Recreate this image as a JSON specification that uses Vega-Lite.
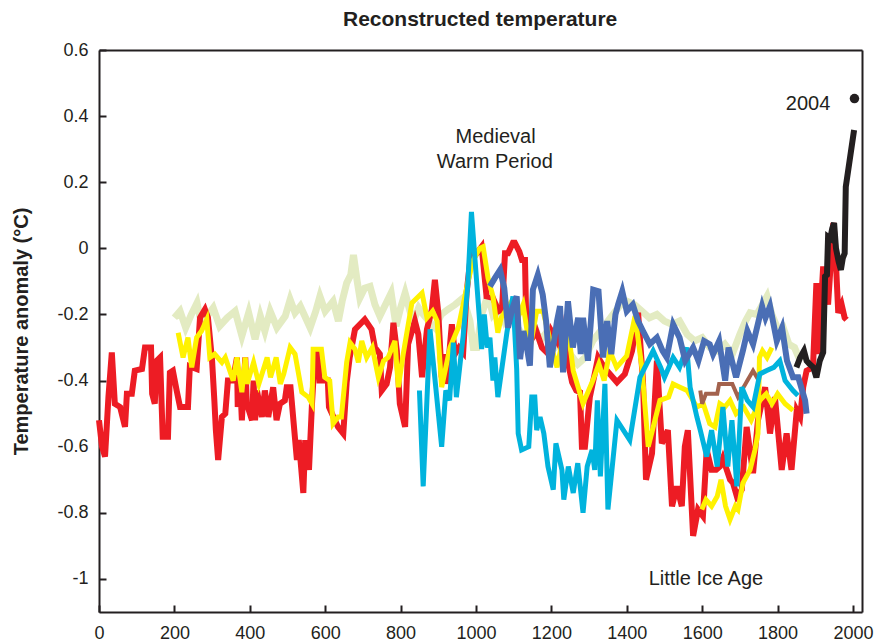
{
  "$schema": "https://vega.github.io/schema/vega-lite/v6.json",
  "width": 763,
  "height": 562,
  "autosize": "none",
  "padding": {"left": 99, "top": 50, "right": 13, "bottom": 31},
  "resolve": {"axis": {"y": "independent"}},
  "config": {
    "font": "Liberation Sans",
    "axis": {"domainColor": "#231f20", "domainWidth": 2, "ticks": false, "labelColor": "#231f20", "labelFontSize": 18}
  },
  "datasets": {
    "series": [
      {"s":"green","x":200,"y":-0.21},{"s":"green","x":215,"y":-0.19},{"s":"green","x":230,"y":-0.24},{"s":"green","x":245,"y":-0.2},{"s":"green","x":260,"y":-0.165},{"s":"green","x":272,"y":-0.23},{"s":"green","x":290,"y":-0.2},{"s":"green","x":303,"y":-0.18},{"s":"green","x":320,"y":-0.235},{"s":"green","x":340,"y":-0.21},{"s":"green","x":361,"y":-0.19},{"s":"green","x":379,"y":-0.265},{"s":"green","x":397,"y":-0.195},{"s":"green","x":414,"y":-0.275},{"s":"green","x":428,"y":-0.205},{"s":"green","x":440,"y":-0.25},{"s":"green","x":454,"y":-0.19},{"s":"green","x":472,"y":-0.24},{"s":"green","x":494,"y":-0.205},{"s":"green","x":507,"y":-0.155},{"s":"green","x":520,"y":-0.195},{"s":"green","x":534,"y":-0.175},{"s":"green","x":548,"y":-0.21},{"s":"green","x":560,"y":-0.24},{"s":"green","x":575,"y":-0.19},{"s":"green","x":586,"y":-0.145},{"s":"green","x":600,"y":-0.19},{"s":"green","x":621,"y":-0.16},{"s":"green","x":635,"y":-0.22},{"s":"green","x":645,"y":-0.16},{"s":"green","x":657,"y":-0.105},{"s":"green","x":668,"y":-0.08},{"s":"green","x":675,"y":-0.02},{"s":"green","x":685,"y":-0.1},{"s":"green","x":692,"y":-0.15},{"s":"green","x":705,"y":-0.12},{"s":"green","x":719,"y":-0.115},{"s":"green","x":732,"y":-0.17},{"s":"green","x":745,"y":-0.205},{"s":"green","x":760,"y":-0.17},{"s":"green","x":775,"y":-0.135},{"s":"green","x":788,"y":-0.235},{"s":"green","x":800,"y":-0.18},{"s":"green","x":812,"y":-0.135},{"s":"green","x":825,"y":-0.19},{"s":"green","x":834,"y":-0.22},{"s":"green","x":848,"y":-0.18},{"s":"green","x":860,"y":-0.2},{"s":"green","x":875,"y":-0.22},{"s":"green","x":891,"y":-0.24},{"s":"green","x":908,"y":-0.2},{"s":"green","x":925,"y":-0.185},{"s":"green","x":945,"y":-0.17},{"s":"green","x":966,"y":-0.15},{"s":"green","x":984,"y":-0.22},{"s":"green","x":993,"y":-0.3},{"s":"green","x":1002,"y":-0.3},{"s":"green","x":1015,"y":-0.2},{"s":"green","x":1032,"y":-0.14},{"s":"green","x":1045,"y":-0.2},{"s":"green","x":1060,"y":-0.18},{"s":"green","x":1075,"y":-0.22},{"s":"green","x":1090,"y":-0.19},{"s":"green","x":1110,"y":-0.24},{"s":"green","x":1130,"y":-0.27},{"s":"green","x":1150,"y":-0.22},{"s":"green","x":1170,"y":-0.28},{"s":"green","x":1190,"y":-0.25},{"s":"green","x":1210,"y":-0.3},{"s":"green","x":1230,"y":-0.28},{"s":"green","x":1250,"y":-0.32},{"s":"green","x":1270,"y":-0.35},{"s":"green","x":1290,"y":-0.33},{"s":"green","x":1310,"y":-0.28},{"s":"green","x":1330,"y":-0.25},{"s":"green","x":1350,"y":-0.22},{"s":"green","x":1370,"y":-0.19},{"s":"green","x":1385,"y":-0.17},{"s":"green","x":1400,"y":-0.16},{"s":"green","x":1420,"y":-0.17},{"s":"green","x":1440,"y":-0.19},{"s":"green","x":1460,"y":-0.21},{"s":"green","x":1480,"y":-0.2},{"s":"green","x":1500,"y":-0.22},{"s":"green","x":1520,"y":-0.23},{"s":"green","x":1540,"y":-0.22},{"s":"green","x":1560,"y":-0.26},{"s":"green","x":1580,"y":-0.28},{"s":"green","x":1600,"y":-0.27},{"s":"green","x":1620,"y":-0.3},{"s":"green","x":1640,"y":-0.31},{"s":"green","x":1660,"y":-0.29},{"s":"green","x":1680,"y":-0.32},{"s":"green","x":1700,"y":-0.26},{"s":"green","x":1715,"y":-0.22},{"s":"green","x":1727,"y":-0.195},{"s":"green","x":1745,"y":-0.2},{"s":"green","x":1760,"y":-0.17},{"s":"green","x":1772,"y":-0.145},{"s":"green","x":1785,"y":-0.2},{"s":"green","x":1803,"y":-0.25},{"s":"green","x":1815,"y":-0.24},{"s":"green","x":1830,"y":-0.29},{"s":"green","x":1845,"y":-0.3},{"s":"green","x":1860,"y":-0.34},

      {"s":"red","x":0,"y":-0.52},{"s":"red","x":8,"y":-0.6},{"s":"red","x":16,"y":-0.63},{"s":"red","x":25,"y":-0.45},{"s":"red","x":34,"y":-0.315},{"s":"red","x":42,"y":-0.47},{"s":"red","x":56,"y":-0.48},{"s":"red","x":69,"y":-0.54},{"s":"red","x":74,"y":-0.44},{"s":"red","x":87,"y":-0.44},{"s":"red","x":95,"y":-0.37},{"s":"red","x":114,"y":-0.365},{"s":"red","x":122,"y":-0.3},{"s":"red","x":138,"y":-0.3},{"s":"red","x":141,"y":-0.44},{"s":"red","x":148,"y":-0.47},{"s":"red","x":153,"y":-0.34},{"s":"red","x":162,"y":-0.33},{"s":"red","x":169,"y":-0.57},{"s":"red","x":183,"y":-0.57},{"s":"red","x":188,"y":-0.376},{"s":"red","x":196,"y":-0.37},{"s":"red","x":206,"y":-0.43},{"s":"red","x":215,"y":-0.48},{"s":"red","x":236,"y":-0.48},{"s":"red","x":241,"y":-0.357},{"s":"red","x":259,"y":-0.365},{"s":"red","x":268,"y":-0.21},{"s":"red","x":281,"y":-0.185},{"s":"red","x":289,"y":-0.21},{"s":"red","x":300,"y":-0.34},{"s":"red","x":306,"y":-0.46},{"s":"red","x":310,"y":-0.55},{"s":"red","x":316,"y":-0.64},{"s":"red","x":326,"y":-0.51},{"s":"red","x":335,"y":-0.5},{"s":"red","x":342,"y":-0.4},{"s":"red","x":355,"y":-0.4},{"s":"red","x":366,"y":-0.33},{"s":"red","x":368,"y":-0.48},{"s":"red","x":374,"y":-0.39},{"s":"red","x":379,"y":-0.52},{"s":"red","x":388,"y":-0.33},{"s":"red","x":392,"y":-0.47},{"s":"red","x":406,"y":-0.52},{"s":"red","x":410,"y":-0.4},{"s":"red","x":414,"y":-0.52},{"s":"red","x":419,"y":-0.43},{"s":"red","x":432,"y":-0.51},{"s":"red","x":440,"y":-0.43},{"s":"red","x":449,"y":-0.51},{"s":"red","x":462,"y":-0.42},{"s":"red","x":471,"y":-0.52},{"s":"red","x":480,"y":-0.47},{"s":"red","x":493,"y":-0.46},{"s":"red","x":498,"y":-0.42},{"s":"red","x":508,"y":-0.42},{"s":"red","x":525,"y":-0.64},{"s":"red","x":530,"y":-0.58},{"s":"red","x":542,"y":-0.74},{"s":"red","x":547,"y":-0.58},{"s":"red","x":557,"y":-0.67},{"s":"red","x":565,"y":-0.47},{"s":"red","x":573,"y":-0.315},{"s":"red","x":582,"y":-0.315},{"s":"red","x":585,"y":-0.4},{"s":"red","x":607,"y":-0.4},{"s":"red","x":610,"y":-0.48},{"s":"red","x":634,"y":-0.54},{"s":"red","x":648,"y":-0.56},{"s":"red","x":657,"y":-0.405},{"s":"red","x":665,"y":-0.33},{"s":"red","x":679,"y":-0.245},{"s":"red","x":705,"y":-0.215},{"s":"red","x":723,"y":-0.245},{"s":"red","x":732,"y":-0.3},{"s":"red","x":745,"y":-0.32},{"s":"red","x":750,"y":-0.43},{"s":"red","x":763,"y":-0.41},{"s":"red","x":772,"y":-0.36},{"s":"red","x":781,"y":-0.225},{"s":"red","x":790,"y":-0.31},{"s":"red","x":798,"y":-0.47},{"s":"red","x":812,"y":-0.54},{"s":"red","x":820,"y":-0.29},{"s":"red","x":838,"y":-0.22},{"s":"red","x":847,"y":-0.26},{"s":"red","x":857,"y":-0.39},{"s":"red","x":870,"y":-0.245},{"s":"red","x":883,"y":-0.185},{"s":"red","x":891,"y":-0.095},{"s":"red","x":900,"y":-0.195},{"s":"red","x":909,"y":-0.39},{"s":"red","x":918,"y":-0.32},{"s":"red","x":922,"y":-0.41},{"s":"red","x":936,"y":-0.23},{"s":"red","x":944,"y":-0.32},{"s":"red","x":955,"y":-0.3},{"s":"red","x":966,"y":-0.315},{"s":"red","x":975,"y":-0.135},{"s":"red","x":984,"y":-0.045},{"s":"red","x":993,"y":-0.005},{"s":"red","x":1002,"y":-0.015},{"s":"red","x":1015,"y":0.005},{"s":"red","x":1028,"y":-0.145},{"s":"red","x":1045,"y":-0.15},{"s":"red","x":1060,"y":-0.19},{"s":"red","x":1069,"y":-0.185},{"s":"red","x":1077,"y":-0.015},{"s":"red","x":1085,"y":-0.015},{"s":"red","x":1098,"y":0.017},{"s":"red","x":1103,"y":0.017},{"s":"red","x":1115,"y":-0.01},{"s":"red","x":1122,"y":-0.035},{"s":"red","x":1130,"y":-0.035},{"s":"red","x":1133,"y":-0.2},{"s":"red","x":1145,"y":-0.28},{"s":"red","x":1160,"y":-0.25},{"s":"red","x":1175,"y":-0.3},{"s":"red","x":1188,"y":-0.315},{"s":"red","x":1200,"y":-0.25},{"s":"red","x":1215,"y":-0.28},{"s":"red","x":1223,"y":-0.2},{"s":"red","x":1231,"y":-0.27},{"s":"red","x":1245,"y":-0.35},{"s":"red","x":1255,"y":-0.405},{"s":"red","x":1266,"y":-0.43},{"s":"red","x":1276,"y":-0.435},{"s":"red","x":1281,"y":-0.6},{"s":"red","x":1289,"y":-0.6},{"s":"red","x":1302,"y":-0.45},{"s":"red","x":1315,"y":-0.38},{"s":"red","x":1324,"y":-0.33},{"s":"red","x":1340,"y":-0.36},{"s":"red","x":1355,"y":-0.38},{"s":"red","x":1374,"y":-0.405},{"s":"red","x":1395,"y":-0.38},{"s":"red","x":1414,"y":-0.31},{"s":"red","x":1430,"y":-0.195},{"s":"red","x":1443,"y":-0.4},{"s":"red","x":1451,"y":-0.7},{"s":"red","x":1467,"y":-0.62},{"s":"red","x":1480,"y":-0.34},{"s":"red","x":1493,"y":-0.59},{"s":"red","x":1509,"y":-0.55},{"s":"red","x":1520,"y":-0.78},{"s":"red","x":1533,"y":-0.72},{"s":"red","x":1546,"y":-0.78},{"s":"red","x":1554,"y":-0.6},{"s":"red","x":1562,"y":-0.55},{"s":"red","x":1576,"y":-0.87},{"s":"red","x":1589,"y":-0.79},{"s":"red","x":1602,"y":-0.81},{"s":"red","x":1612,"y":-0.61},{"s":"red","x":1625,"y":-0.67},{"s":"red","x":1637,"y":-0.67},{"s":"red","x":1647,"y":-0.66},{"s":"red","x":1655,"y":-0.635},{"s":"red","x":1674,"y":-0.7},{"s":"red","x":1682,"y":-0.71},{"s":"red","x":1692,"y":-0.75},{"s":"red","x":1705,"y":-0.73},{"s":"red","x":1718,"y":-0.54},{"s":"red","x":1735,"y":-0.68},{"s":"red","x":1748,"y":-0.52},{"s":"red","x":1767,"y":-0.42},{"s":"red","x":1780,"y":-0.56},{"s":"red","x":1793,"y":-0.45},{"s":"red","x":1811,"y":-0.67},{"s":"red","x":1824,"y":-0.56},{"s":"red","x":1837,"y":-0.67},{"s":"red","x":1851,"y":-0.49},{"s":"red","x":1860,"y":-0.51},{"s":"red","x":1868,"y":-0.42},{"s":"red","x":1877,"y":-0.37},{"s":"red","x":1894,"y":-0.36},{"s":"red","x":1903,"y":-0.105},{"s":"red","x":1908,"y":-0.32},{"s":"red","x":1921,"y":-0.055},{"s":"red","x":1934,"y":-0.17},{"s":"red","x":1948,"y":0.077},{"s":"red","x":1952,"y":0.026},{"s":"red","x":1961,"y":-0.195},{"s":"red","x":1970,"y":-0.17},{"s":"red","x":1978,"y":-0.21},{"s":"red","x":1983,"y":-0.216},

      {"s":"yellow","x":210,"y":-0.255},{"s":"yellow","x":223,"y":-0.33},{"s":"yellow","x":236,"y":-0.27},{"s":"yellow","x":246,"y":-0.36},{"s":"yellow","x":259,"y":-0.27},{"s":"yellow","x":272,"y":-0.25},{"s":"yellow","x":286,"y":-0.215},{"s":"yellow","x":294,"y":-0.33},{"s":"yellow","x":307,"y":-0.32},{"s":"yellow","x":326,"y":-0.345},{"s":"yellow","x":335,"y":-0.33},{"s":"yellow","x":356,"y":-0.4},{"s":"yellow","x":366,"y":-0.33},{"s":"yellow","x":379,"y":-0.435},{"s":"yellow","x":388,"y":-0.33},{"s":"yellow","x":393,"y":-0.41},{"s":"yellow","x":410,"y":-0.345},{"s":"yellow","x":424,"y":-0.41},{"s":"yellow","x":446,"y":-0.33},{"s":"yellow","x":455,"y":-0.39},{"s":"yellow","x":470,"y":-0.33},{"s":"yellow","x":481,"y":-0.41},{"s":"yellow","x":490,"y":-0.38},{"s":"yellow","x":507,"y":-0.3},{"s":"yellow","x":520,"y":-0.32},{"s":"yellow","x":538,"y":-0.435},{"s":"yellow","x":555,"y":-0.45},{"s":"yellow","x":565,"y":-0.47},{"s":"yellow","x":568,"y":-0.305},{"s":"yellow","x":590,"y":-0.305},{"s":"yellow","x":599,"y":-0.39},{"s":"yellow","x":612,"y":-0.4},{"s":"yellow","x":621,"y":-0.53},{"s":"yellow","x":634,"y":-0.51},{"s":"yellow","x":643,"y":-0.51},{"s":"yellow","x":657,"y":-0.345},{"s":"yellow","x":666,"y":-0.285},{"s":"yellow","x":679,"y":-0.305},{"s":"yellow","x":688,"y":-0.345},{"s":"yellow","x":697,"y":-0.28},{"s":"yellow","x":710,"y":-0.33},{"s":"yellow","x":725,"y":-0.3},{"s":"yellow","x":741,"y":-0.39},{"s":"yellow","x":755,"y":-0.34},{"s":"yellow","x":767,"y":-0.33},{"s":"yellow","x":785,"y":-0.28},{"s":"yellow","x":794,"y":-0.42},{"s":"yellow","x":807,"y":-0.32},{"s":"yellow","x":830,"y":-0.165},{"s":"yellow","x":857,"y":-0.135},{"s":"yellow","x":870,"y":-0.21},{"s":"yellow","x":885,"y":-0.19},{"s":"yellow","x":897,"y":-0.22},{"s":"yellow","x":909,"y":-0.42},{"s":"yellow","x":931,"y":-0.3},{"s":"yellow","x":953,"y":-0.24},{"s":"yellow","x":979,"y":-0.1},{"s":"yellow","x":993,"y":-0.035},{"s":"yellow","x":1010,"y":0.0},{"s":"yellow","x":1019,"y":0.005},{"s":"yellow","x":1032,"y":-0.09},{"s":"yellow","x":1045,"y":-0.145},{"s":"yellow","x":1058,"y":-0.255},{"s":"yellow","x":1067,"y":-0.21},{"s":"yellow","x":1089,"y":-0.17},{"s":"yellow","x":1108,"y":-0.22},{"s":"yellow","x":1125,"y":-0.17},{"s":"yellow","x":1143,"y":-0.305},{"s":"yellow","x":1161,"y":-0.19},{"s":"yellow","x":1178,"y":-0.19},{"s":"yellow","x":1201,"y":-0.3},{"s":"yellow","x":1215,"y":-0.36},{"s":"yellow","x":1241,"y":-0.215},{"s":"yellow","x":1258,"y":-0.37},{"s":"yellow","x":1284,"y":-0.47},{"s":"yellow","x":1310,"y":-0.4},{"s":"yellow","x":1326,"y":-0.35},{"s":"yellow","x":1340,"y":-0.4},{"s":"yellow","x":1355,"y":-0.31},{"s":"yellow","x":1373,"y":-0.36},{"s":"yellow","x":1400,"y":-0.325},{"s":"yellow","x":1422,"y":-0.205},{"s":"yellow","x":1440,"y":-0.36},{"s":"yellow","x":1457,"y":-0.6},{"s":"yellow","x":1488,"y":-0.46},{"s":"yellow","x":1511,"y":-0.45},{"s":"yellow","x":1523,"y":-0.41},{"s":"yellow","x":1541,"y":-0.42},{"s":"yellow","x":1560,"y":-0.43},{"s":"yellow","x":1586,"y":-0.48},{"s":"yellow","x":1603,"y":-0.47},{"s":"yellow","x":1620,"y":-0.53},{"s":"yellow","x":1634,"y":-0.54},{"s":"yellow","x":1647,"y":-0.47},{"s":"yellow","x":1660,"y":-0.48},{"s":"yellow","x":1674,"y":-0.46},{"s":"yellow","x":1690,"y":-0.5},{"s":"yellow","x":1710,"y":-0.48},{"s":"yellow","x":1730,"y":-0.52},{"s":"yellow","x":1753,"y":-0.46},{"s":"yellow","x":1770,"y":-0.44},{"s":"yellow","x":1785,"y":-0.47},{"s":"yellow","x":1800,"y":-0.44},{"s":"yellow","x":1820,"y":-0.47},{"s":"yellow","x":1841,"y":-0.49},

      {"s":"yellow2","x":1599,"y":-0.79},{"s":"yellow2","x":1610,"y":-0.76},{"s":"yellow2","x":1625,"y":-0.78},{"s":"yellow2","x":1640,"y":-0.75},{"s":"yellow2","x":1650,"y":-0.7},{"s":"yellow2","x":1662,"y":-0.78},{"s":"yellow2","x":1674,"y":-0.82},{"s":"yellow2","x":1688,"y":-0.78},{"s":"yellow2","x":1695,"y":-0.79},{"s":"yellow2","x":1708,"y":-0.71},{"s":"yellow2","x":1727,"y":-0.67},{"s":"yellow2","x":1740,"y":-0.61},{"s":"yellow2","x":1748,"y":-0.56},{"s":"yellow2","x":1752,"y":-0.33},{"s":"yellow2","x":1760,"y":-0.31},{"s":"yellow2","x":1772,"y":-0.33},{"s":"yellow2","x":1785,"y":-0.3},

      {"s":"brown","x":1595,"y":-0.43},{"s":"brown","x":1600,"y":-0.47},{"s":"brown","x":1610,"y":-0.44},{"s":"brown","x":1640,"y":-0.44},{"s":"brown","x":1645,"y":-0.41},{"s":"brown","x":1680,"y":-0.41},{"s":"brown","x":1695,"y":-0.45},{"s":"brown","x":1720,"y":-0.4},{"s":"brown","x":1735,"y":-0.37},{"s":"brown","x":1750,"y":-0.4},

      {"s":"cyan","x":850,"y":-0.43},{"s":"cyan","x":860,"y":-0.72},{"s":"cyan","x":878,"y":-0.245},{"s":"cyan","x":895,"y":-0.44},{"s":"cyan","x":909,"y":-0.6},{"s":"cyan","x":920,"y":-0.43},{"s":"cyan","x":930,"y":-0.46},{"s":"cyan","x":940,"y":-0.285},{"s":"cyan","x":948,"y":-0.45},{"s":"cyan","x":966,"y":-0.265},{"s":"cyan","x":978,"y":-0.115},{"s":"cyan","x":988,"y":0.11},{"s":"cyan","x":1006,"y":-0.165},{"s":"cyan","x":1015,"y":-0.305},{"s":"cyan","x":1022,"y":-0.2},{"s":"cyan","x":1030,"y":-0.3},{"s":"cyan","x":1037,"y":-0.27},{"s":"cyan","x":1045,"y":-0.4},{"s":"cyan","x":1050,"y":-0.33},{"s":"cyan","x":1058,"y":-0.45},{"s":"cyan","x":1082,"y":-0.255},{"s":"cyan","x":1098,"y":-0.145},{"s":"cyan","x":1108,"y":-0.365},{"s":"cyan","x":1112,"y":-0.56},{"s":"cyan","x":1121,"y":-0.61},{"s":"cyan","x":1140,"y":-0.6},{"s":"cyan","x":1148,"y":-0.45},{"s":"cyan","x":1156,"y":-0.45},{"s":"cyan","x":1161,"y":-0.55},{"s":"cyan","x":1170,"y":-0.51},{"s":"cyan","x":1180,"y":-0.56},{"s":"cyan","x":1191,"y":-0.66},{"s":"cyan","x":1205,"y":-0.73},{"s":"cyan","x":1212,"y":-0.59},{"s":"cyan","x":1228,"y":-0.67},{"s":"cyan","x":1233,"y":-0.76},{"s":"cyan","x":1245,"y":-0.66},{"s":"cyan","x":1258,"y":-0.74},{"s":"cyan","x":1270,"y":-0.65},{"s":"cyan","x":1284,"y":-0.8},{"s":"cyan","x":1295,"y":-0.66},{"s":"cyan","x":1308,"y":-0.61},{"s":"cyan","x":1315,"y":-0.67},{"s":"cyan","x":1322,"y":-0.46},{"s":"cyan","x":1330,"y":-0.69},{"s":"cyan","x":1342,"y":-0.41},{"s":"cyan","x":1350,"y":-0.79},{"s":"cyan","x":1374,"y":-0.52},{"s":"cyan","x":1408,"y":-0.58},{"s":"cyan","x":1435,"y":-0.39},{"s":"cyan","x":1470,"y":-0.31},{"s":"cyan","x":1490,"y":-0.36},{"s":"cyan","x":1500,"y":-0.39},{"s":"cyan","x":1523,"y":-0.33},{"s":"cyan","x":1540,"y":-0.36},{"s":"cyan","x":1559,"y":-0.3},{"s":"cyan","x":1568,"y":-0.42},{"s":"cyan","x":1586,"y":-0.51},{"s":"cyan","x":1595,"y":-0.55},{"s":"cyan","x":1612,"y":-0.63},{"s":"cyan","x":1625,"y":-0.55},{"s":"cyan","x":1640,"y":-0.66},{"s":"cyan","x":1655,"y":-0.48},{"s":"cyan","x":1668,"y":-0.66},{"s":"cyan","x":1679,"y":-0.52},{"s":"cyan","x":1692,"y":-0.72},{"s":"cyan","x":1705,"y":-0.42},{"s":"cyan","x":1720,"y":-0.46},{"s":"cyan","x":1735,"y":-0.48},{"s":"cyan","x":1753,"y":-0.38},{"s":"cyan","x":1770,"y":-0.37},{"s":"cyan","x":1790,"y":-0.36},{"s":"cyan","x":1806,"y":-0.34},{"s":"cyan","x":1820,"y":-0.4},{"s":"cyan","x":1841,"y":-0.43},{"s":"cyan","x":1854,"y":-0.445},

      {"s":"blue","x":1037,"y":-0.115},{"s":"blue","x":1050,"y":-0.09},{"s":"blue","x":1064,"y":-0.065},{"s":"blue","x":1075,"y":-0.12},{"s":"blue","x":1085,"y":-0.24},{"s":"blue","x":1097,"y":-0.18},{"s":"blue","x":1108,"y":-0.145},{"s":"blue","x":1117,"y":-0.335},{"s":"blue","x":1126,"y":-0.25},{"s":"blue","x":1135,"y":-0.3},{"s":"blue","x":1143,"y":-0.355},{"s":"blue","x":1151,"y":-0.125},{"s":"blue","x":1164,"y":-0.08},{"s":"blue","x":1177,"y":-0.14},{"s":"blue","x":1186,"y":-0.22},{"s":"blue","x":1196,"y":-0.36},{"s":"blue","x":1206,"y":-0.29},{"s":"blue","x":1215,"y":-0.22},{"s":"blue","x":1223,"y":-0.175},{"s":"blue","x":1231,"y":-0.375},{"s":"blue","x":1244,"y":-0.16},{"s":"blue","x":1257,"y":-0.3},{"s":"blue","x":1271,"y":-0.21},{"s":"blue","x":1278,"y":-0.32},{"s":"blue","x":1284,"y":-0.21},{"s":"blue","x":1297,"y":-0.34},{"s":"blue","x":1311,"y":-0.125},{"s":"blue","x":1325,"y":-0.13},{"s":"blue","x":1337,"y":-0.33},{"s":"blue","x":1348,"y":-0.22},{"s":"blue","x":1359,"y":-0.32},{"s":"blue","x":1370,"y":-0.2},{"s":"blue","x":1377,"y":-0.17},{"s":"blue","x":1388,"y":-0.13},{"s":"blue","x":1400,"y":-0.19},{"s":"blue","x":1416,"y":-0.17},{"s":"blue","x":1430,"y":-0.22},{"s":"blue","x":1443,"y":-0.25},{"s":"blue","x":1461,"y":-0.29},{"s":"blue","x":1480,"y":-0.27},{"s":"blue","x":1495,"y":-0.31},{"s":"blue","x":1506,"y":-0.33},{"s":"blue","x":1523,"y":-0.23},{"s":"blue","x":1540,"y":-0.27},{"s":"blue","x":1555,"y":-0.34},{"s":"blue","x":1576,"y":-0.3},{"s":"blue","x":1590,"y":-0.34},{"s":"blue","x":1605,"y":-0.28},{"s":"blue","x":1620,"y":-0.29},{"s":"blue","x":1629,"y":-0.32},{"s":"blue","x":1645,"y":-0.28},{"s":"blue","x":1661,"y":-0.4},{"s":"blue","x":1670,"y":-0.3},{"s":"blue","x":1690,"y":-0.39},{"s":"blue","x":1708,"y":-0.31},{"s":"blue","x":1720,"y":-0.25},{"s":"blue","x":1735,"y":-0.29},{"s":"blue","x":1759,"y":-0.175},{"s":"blue","x":1768,"y":-0.21},{"s":"blue","x":1780,"y":-0.175},{"s":"blue","x":1798,"y":-0.28},{"s":"blue","x":1812,"y":-0.24},{"s":"blue","x":1825,"y":-0.34},{"s":"blue","x":1841,"y":-0.39},{"s":"blue","x":1855,"y":-0.39},{"s":"blue","x":1873,"y":-0.46},{"s":"blue","x":1877,"y":-0.5},

      {"s":"black","x":1850,"y":-0.36},{"s":"black","x":1860,"y":-0.33},{"s":"black","x":1870,"y":-0.31},{"s":"black","x":1877,"y":-0.34},{"s":"black","x":1885,"y":-0.35},{"s":"black","x":1895,"y":-0.36},{"s":"black","x":1903,"y":-0.39},{"s":"black","x":1912,"y":-0.34},{"s":"black","x":1921,"y":-0.315},{"s":"black","x":1926,"y":-0.085},{"s":"black","x":1931,"y":-0.08},{"s":"black","x":1934,"y":0.035},{"s":"black","x":1940,"y":0.03},{"s":"black","x":1945,"y":0.06},{"s":"black","x":1950,"y":0.077},{"s":"black","x":1955,"y":0.0},{"s":"black","x":1962,"y":-0.04},{"s":"black","x":1968,"y":-0.065},{"s":"black","x":1973,"y":-0.03},{"s":"black","x":1978,"y":-0.015},{"s":"black","x":1981,"y":0.186},{"s":"black","x":2003,"y":0.358}
    ],
    "labels": [
      {"x": 1052, "y": 0.337, "label": "Medieval"},
      {"x": 1050, "y": 0.262, "label": "Warm Period"},
      {"x": 1610, "y": -1.0, "label": "Little Ice Age"},
      {"x": 1881, "y": 0.437, "label": "2004"}
    ],
    "heading": [{"x": 1011, "y": 0.6, "label": "Reconstructed temperature"}],
    "dot": [{"x": 2004, "y": 0.453}]
  },
  "layer": [
    {
      "data": {"name": "series"},
      "transform": [{"filter": "datum.s === 'green'"}],
      "mark": {"type": "line", "color": "#e3ebc2", "strokeWidth": 7},
      "encoding": {
        "x": {"field": "x", "type": "quantitative", "scale": {"domain": [0, 2024], "nice": false, "zero": false},
              "axis": {"values": [0,200,400,600,800,1000,1200,1400,1600,1800,2000], "title": null, "labelPadding": 12, "labelFlush": false, "format": "d",
                       "grid": true, "gridColor": "#231f20", "gridOpacity": 1, "gridWidth": 2, "gridDash": [0, 555, 7, 2000]}},
        "y": {"field": "y", "type": "quantitative", "scale": {"domain": [-1.1, 0.6], "nice": false, "zero": false},
              "axis": {"orient": "left", "values": [-1,-0.8,-0.6,-0.4,-0.2,0,0.2,0.4,0.6], "title": "Temperature anomaly (°C)", "titleFontSize": 20, "titleFontWeight": "bold", "titleColor": "#231f20", "titlePadding": 25, "labelPadding": 11,
                       "grid": true, "gridColor": "#231f20", "gridOpacity": 1, "gridWidth": 2, "gridDash": [7, 2000],
                       "labelExpr": "datum.value == 0 ? '0' : (datum.value < 0 ? '-' : '') + format(abs(datum.value), '.1~f')"}}
      }
    },
    {"data": {"name": "series"}, "transform": [{"filter": "datum.s === 'red'"}], "mark": {"type": "line", "color": "#ed1c24", "strokeWidth": 6},
     "encoding": {"x": {"field": "x", "type": "quantitative"},
                  "y": {"field": "y", "type": "quantitative",
                        "axis": {"orient": "right", "values": [0.6], "labels": false, "ticks": false, "title": null, "domain": true, "domainColor": "#231f20", "domainWidth": 2,
                                 "grid": true, "gridColor": "#231f20", "gridOpacity": 1, "gridWidth": 2}}}},
    {"data": {"name": "series"}, "transform": [{"filter": "datum.s === 'yellow'"}], "mark": {"type": "line", "color": "#fff200", "strokeWidth": 5}, "encoding": {"x": {"field": "x", "type": "quantitative"}, "y": {"field": "y", "type": "quantitative", "axis": null}}},
    {"data": {"name": "series"}, "transform": [{"filter": "datum.s === 'yellow2'"}], "mark": {"type": "line", "color": "#fff200", "strokeWidth": 5}, "encoding": {"x": {"field": "x", "type": "quantitative"}, "y": {"field": "y", "type": "quantitative", "axis": null}}},
    {"data": {"name": "series"}, "transform": [{"filter": "datum.s === 'brown'"}], "mark": {"type": "line", "color": "#a3624d", "strokeWidth": 4}, "encoding": {"x": {"field": "x", "type": "quantitative"}, "y": {"field": "y", "type": "quantitative", "axis": null}}},
    {"data": {"name": "series"}, "transform": [{"filter": "datum.s === 'cyan'"}], "mark": {"type": "line", "color": "#00b3dd", "strokeWidth": 5}, "encoding": {"x": {"field": "x", "type": "quantitative"}, "y": {"field": "y", "type": "quantitative", "axis": null}}},
    {"data": {"name": "series"}, "transform": [{"filter": "datum.s === 'blue'"}], "mark": {"type": "line", "color": "#4a6eb5", "strokeWidth": 6}, "encoding": {"x": {"field": "x", "type": "quantitative"}, "y": {"field": "y", "type": "quantitative", "axis": null}}},
    {"data": {"name": "series"}, "transform": [{"filter": "datum.s === 'black'"}], "mark": {"type": "line", "color": "#231f20", "strokeWidth": 6}, "encoding": {"x": {"field": "x", "type": "quantitative"}, "y": {"field": "y", "type": "quantitative", "axis": null}}},
    {
      "data": {"name": "dot"},
      "mark": {"type": "point", "filled": true, "size": 90, "color": "#231f20", "opacity": 1},
      "encoding": {"x": {"field": "x", "type": "quantitative"}, "y": {"field": "y", "type": "quantitative", "axis": null}}
    },
    {
      "data": {"name": "labels"},
      "mark": {"type": "text", "fontSize": 20, "color": "#231f20", "align": "center", "baseline": "middle"},
      "encoding": {"x": {"field": "x", "type": "quantitative"}, "y": {"field": "y", "type": "quantitative", "axis": null}, "text": {"field": "label"}}
    },
    {
      "data": {"name": "heading"},
      "mark": {"type": "text", "fontSize": 21, "fontWeight": "bold", "color": "#231f20", "align": "center", "baseline": "middle", "dy": -30},
      "encoding": {"x": {"field": "x", "type": "quantitative"}, "y": {"field": "y", "type": "quantitative", "axis": null}, "text": {"field": "label"}}
    }
  ]
}
